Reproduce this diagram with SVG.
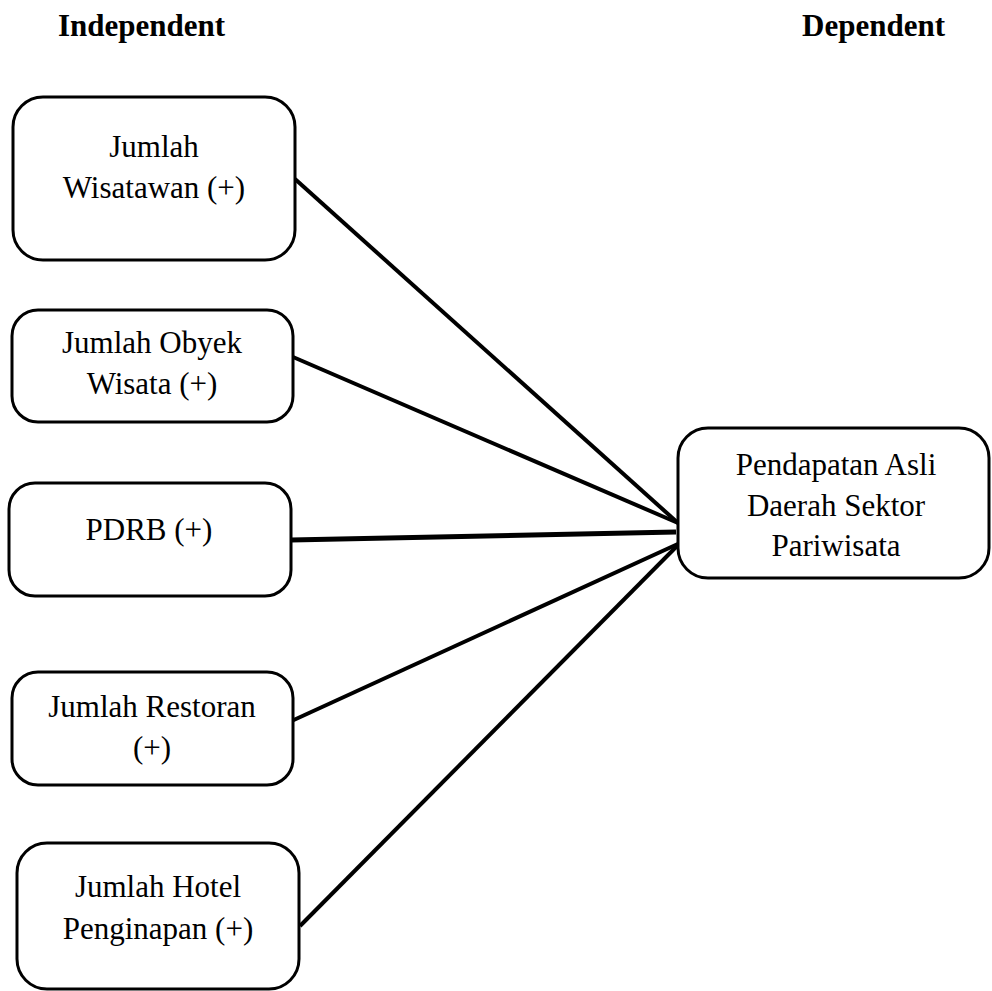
<svg xmlns="http://www.w3.org/2000/svg" width="992" height="991" viewBox="0 0 992 991">
<style>
.box{fill:#fff;stroke:#000;stroke-width:3}
.t{font-family:"Liberation Serif","Times New Roman",serif;font-size:31px;fill:#000;text-anchor:middle}
.h{font-family:"Liberation Serif","Times New Roman",serif;font-size:31px;font-weight:bold;fill:#000}
.c line{stroke:#000;stroke-width:4;stroke-linecap:butt}
</style>
<rect width="992" height="991" fill="#fff"/>
<text class="h" x="58" y="36">Independent</text>
<text class="h" x="802" y="36">Dependent</text>
<g class="c" id="connectors">
<line x1="295" y1="179" x2="678" y2="523"/>
<line x1="293" y1="357" x2="678" y2="523"/>
<line x1="291" y1="540" x2="676" y2="532" style="stroke-width:5"/>
<line x1="285" y1="724" x2="680" y2="543"/>
<line x1="300" y1="926" x2="680" y2="543"/>
</g>
<g id="n1"><rect class="box" x="13" y="97" width="282" height="163" rx="30"/>
<text class="t" x="154" y="157">Jumlah</text><text class="t" x="154" y="198">Wisatawan (+)</text></g>
<g id="n2"><rect class="box" x="12" y="310" width="281" height="112" rx="26"/>
<text class="t" x="152" y="353">Jumlah Obyek</text><text class="t" x="152" y="394">Wisata (+)</text></g>
<g id="n3"><rect class="box" x="9" y="483" width="282" height="113" rx="26"/>
<text class="t" x="149" y="540">PDRB (+)</text></g>
<g id="n4"><rect class="box" x="12" y="672" width="281" height="113" rx="26"/>
<text class="t" x="152" y="717">Jumlah Restoran</text><text class="t" x="152" y="758">(+)</text></g>
<g id="n5"><rect class="box" x="17" y="843" width="282" height="146" rx="30"/>
<text class="t" x="158" y="897">Jumlah Hotel</text><text class="t" x="158" y="939">Penginapan (+)</text></g>
<g id="n6"><rect class="box" x="678" y="428" width="311" height="150" rx="30"/>
<text class="t" x="836" y="475">Pendapatan Asli</text><text class="t" x="836" y="516">Daerah Sektor</text><text class="t" x="836" y="556">Pariwisata</text></g>
</svg>
